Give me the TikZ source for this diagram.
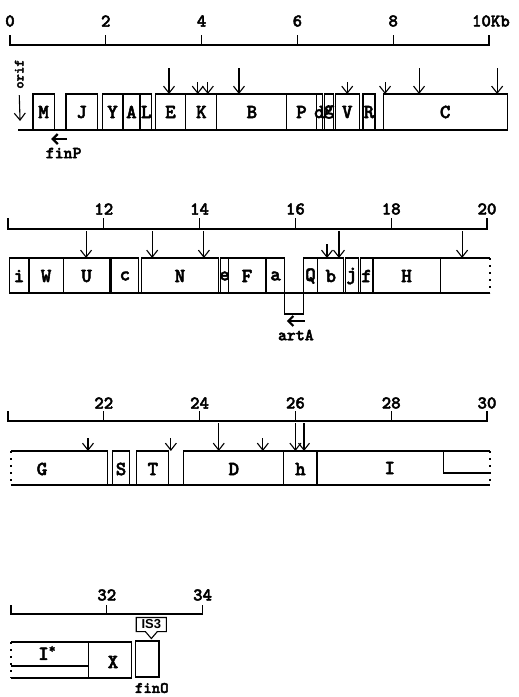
\documentclass[tikz,border=0pt]{standalone}
\usepackage{fontspec}
\usepackage{tikz}
\usetikzlibrary{arrows.meta,positioning}
\newfontfamily\mapfam{lmmonolt10-bold.otf}[FakeBold=2.5]
\newfontfamily\tagfam{Liberation Sans}
\tikzset{
  gene/.style={font=\mapfam\fontsize{20}{20}\selectfont, inner sep=0pt},
  kbnum/.style={font=\mapfam\fontsize{18}{18}\selectfont, inner sep=0pt},
  locus/.style={font=\mapfam\fontsize{17}{17}\selectfont, inner sep=0pt},
  tnsite/.style={-{Straight Barb[length=7pt,width=11pt]}, line width=1.1pt},
  finarrow/.style={-{Straight Barb[length=5pt,width=10pt]}, line width=2.2pt},
  contig/.style={line width=1.6pt, dash pattern=on 2pt off 5pt},
  istag/.style={font=\tagfam\bfseries\fontsize{13}{13}\selectfont, inner sep=0pt,
                minimum width=29pt, minimum height=13pt}
}

\begin{document}
\begin{tikzpicture}[x=1pt, y=-1pt, line width=1.1pt]
\useasboundingbox (0,0) rectangle (519,697);

% 0 - 10 kb
\begin{scope}[x=47.9pt, xshift=10pt]
\draw (0,35) -- (0,45) -- (10,45) -- (10,35);
\foreach \k in {2,4,6,8} \draw (\k,35) -- (\k,45);
\foreach \k in {0,2,4,6,8} \node[kbnum] (kb\k) at (\k,21) {\k};
\node[kbnum] (kb10) at (10.04,21) {10Kb};
\foreach \a/\b/\t in {0.48/0.92/M, 1.17/1.82/J, 1.94/2.34/Y, 2.36/2.71/A, 2.73/2.96/L,
    3.03/3.67/E, 3.67/4.32/K, 4.32/5.78/B, 5.78/6.39/P, 6.39/6.53/d, 6.56/6.76/g,
    6.79/7.29/V, 7.37/7.62/R, 7.79/10.38/C} {
  \draw (\a,94) rectangle (\b,130);
  \node[gene] (g\t) at ({(\a+\b)/2},112) {\t};
}
\draw (0.17,130) -- (10.38,130);
\foreach \x/\y in {3.32/68, 3.92/82, 4.13/82, 4.78/68, 7.04/82, 7.83/82, 8.54/68, 10.17/68} {
  \coordinate (tail) at (\x,\y);
  \coordinate (head) at (\x,94);
  \draw[tnsite] (tail) -- (head);
}
\node[locus, font=\mapfam\fontsize{14}{14}\selectfont, rotate=90] (orif) at (0.19,74) {orif};
\coordinate (orifH) at (0.21,121);
\draw[tnsite, shorten <=6pt] (orif.west) -- (orifH);
\coordinate (finPs) at (1.19,139);
\coordinate (finPe) at (0.86,139);
\draw[finarrow] (finPs) -- (finPe);
\node[locus] (finP) at (1.12,153) {finP};
\end{scope}

% 10 - 20 kb
\begin{scope}[x=47.9pt, xshift=-471pt]
\draw (10,218) -- (10,229) -- (20,229) -- (20,218);
\foreach \k in {12,14,16,18} \draw (\k,218) -- (\k,229);
\foreach \k in {12,14,16,18,20} \node[kbnum] (kb\k) at (\k,209) {\k};
\foreach \a/\b/\t in {10.04/10.42/i, 10.44/11.15/W, 11.15/12.13/U, 12.15/12.73/c,
    12.78/14.40/N, 14.43/14.61/e, 14.61/15.37/F, 15.39/15.78/a, 16.16/16.47/Q,
    16.47/17.01/b, 17.04/17.31/j, 17.35/17.62/f, 17.62/19.02/H} {
  \draw (\a,258) rectangle (\b,293);
  \node[gene] (g\t) at ({(\a+\b)/2},276) {\t};
}
\draw (20.06,258) -- (19.02,258) -- (19.02,293);
\draw[contig] (20.06,258) -- (20.06,293);
\draw (10.04,293) -- (20.06,293);
\draw (15.78,293) -- (15.78,314) -- (16.16,314) -- (16.16,293);
\foreach \x/\y in {11.63/231, 13.01/231, 14.09/231, 16.66/244, 16.91/231, 19.48/231} {
  \coordinate (tail) at (\x,\y);
  \coordinate (head) at (\x,258);
  \draw[tnsite] (tail) -- (head);
}
\coordinate (artAs) at (16.20,321);
\coordinate (artAe) at (15.82,321);
\draw[finarrow] (artAs) -- (artAe);
\node[locus] (artA) at (16.01,335) {artA};
\end{scope}

% 20 - 30 kb
\begin{scope}[x=47.9pt, xshift=-950pt]
\draw (20,411) -- (20,421) -- (30,421) -- (30,411);
\foreach \k in {22,24,26,28} \draw (\k,411) -- (\k,421);
\foreach \k in {22,24,26,28,30} \node[kbnum] (kb\k) at (\k,403) {\k};
\foreach \a/\b/\t in {22.19/22.53/S, 22.69/23.36/T, 23.67/25.76/D, 25.76/26.45/h} {
  \draw (\a,451) rectangle (\b,485);
  \node[gene] (g\t) at ({(\a+\b)/2},469) {\t};
}
\draw (20.06,451) -- (22.07,451) -- (22.07,485);
\node[gene] (gG) at (20.71,469) {G};
\draw (26.45,485) -- (26.45,451) -- (30.06,451);
\draw (29.10,451) -- (29.10,473) -- (30.06,473);
\node[gene] (gI) at (27.97,468) {I};
\draw[contig] (20.06,451) -- (20.06,485);
\draw[contig] (30.06,451) -- (30.06,485);
\draw (20.06,485) -- (30.06,485);
\foreach \x/\y in {21.67/438, 23.40/438, 24.40/423, 25.32/438, 26.0/423, 26.18/423} {
  \coordinate (tail) at (\x,\y);
  \coordinate (head) at (\x,451);
  \draw[tnsite] (tail) -- (head);
}
\end{scope}

% 30 - 34 kb
\begin{scope}[x=47.9pt, xshift=-1426pt]
\draw (30,605) -- (30,614) -- (34,614) -- (34,605);
\draw (32,605) -- (32,614);
\foreach \k in {32,34} \node[kbnum] (kb\k) at (\k,595) {\k};
\draw (31.61,642) -- (30,642);
\draw (30,666) -- (31.61,666);
\draw[contig] (30,642) -- (30,678);
\draw (30,678) -- (32.51,678);
\node[gene] (gIs) at (30.75,653) {I\raisebox{7pt}{\fontsize{13}{13}\selectfont*}};
\draw (31.61,642) rectangle (32.51,678);
\node[gene] (gX) at (32.13,662) {X};
\draw (32.59,641) rectangle (33.09,677);
\node[istag] (is3) at (32.93,624.5) {IS3};
\draw (is3.north west) -- (is3.north east) -- (is3.south east) -- ([xshift=6pt]is3.south)
  -- ([yshift=-7pt]is3.south) -- ([xshift=-6pt]is3.south) -- (is3.south west) -- cycle;
\node[locus, font=\mapfam\fontsize{16}{16}\selectfont] (finO) at (32.94,688) {finO};
\end{scope}
\end{tikzpicture}
\end{document}
